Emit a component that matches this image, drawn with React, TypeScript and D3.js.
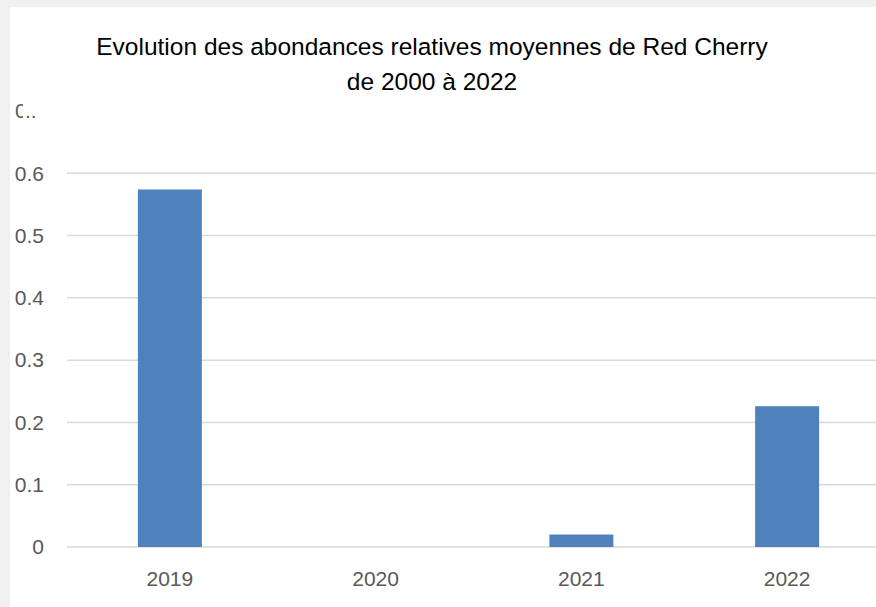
import * as d3 from "d3";

const years = ["2019", "2020", "2021", "2022"];
const abondance = [0.574, 0, 0.02, 0.226];
const yTicks = [0, 0.1, 0.2, 0.3, 0.4, 0.5, 0.6];
const titleLines = [
  "Evolution des abondances relatives moyennes de Red Cherry",
  "de 2000 à 2022",
];

const W = 876;
const H = 607;
const font = "'Liberation Sans', Arial, sans-serif";

export default function App() {
  const x = d3
    .scaleBand()
    .domain(years)
    .range([67, 890])
    .paddingInner(0.689)
    .paddingOuter(0.3445);
  const y = d3.scaleLinear().domain([0, 0.7]).range([547, 111]);

  return (
    <svg
      width={W}
      height={H}
      style={{ position: "absolute", left: 0, top: 0 }}
    >
      <defs>
        <clipPath id="cut">
          <rect x={0} y={0} width={23} height={H} />
        </clipPath>
      </defs>
      <rect width={W} height={H} fill="#f0f0f0" />
      <rect x={10} y={7} width={W - 10} height={H - 7} fill="#ffffff" />

      {titleLines.map((t, i) => (
        <text
          key={i}
          x={432}
          y={55 + i * 35}
          textAnchor="middle"
          fontFamily={font}
          fontSize={24.5}
          fill="#000000"
        >
          {t}
        </text>
      ))}

      {yTicks.map((t) => (
        <g key={t}>
          <line
            x1={67}
            x2={W}
            y1={y(t)}
            y2={y(t)}
            stroke="#d9d9d9"
            strokeWidth={1.5}
          />
          <text
            x={44}
            y={y(t)}
            dy="0.35em"
            textAnchor="end"
            fontFamily={font}
            fontSize={21}
            fill="#595959"
          >
            {d3.format("")(t)}
          </text>
        </g>
      ))}

      {/* truncated 0.7 label */}
      <text
        x={15}
        y={y(0.7)}
        dy="0.35em"
        fontFamily={font}
        fontSize={21}
        fill="#595959"
        clipPath="url(#cut)"
      >
        0
      </text>
      <text
        x={25}
        y={y(0.7)}
        dy="0.35em"
        fontFamily={font}
        fontSize={21}
        fill="#595959"
      >
        ..
      </text>

      {years.map((yr, i) => (
        <rect
          key={yr}
          x={x(yr)}
          y={y(abondance[i])}
          width={x.bandwidth()}
          height={y(0) - y(abondance[i])}
          fill="#4f81bd"
        />
      ))}

      {years.map((yr) => (
        <text
          key={yr}
          x={(x(yr) ?? 0) + x.bandwidth() / 2}
          y={586}
          textAnchor="middle"
          fontFamily={font}
          fontSize={21}
          fill="#595959"
        >
          {yr}
        </text>
      ))}
    </svg>
  );
}
